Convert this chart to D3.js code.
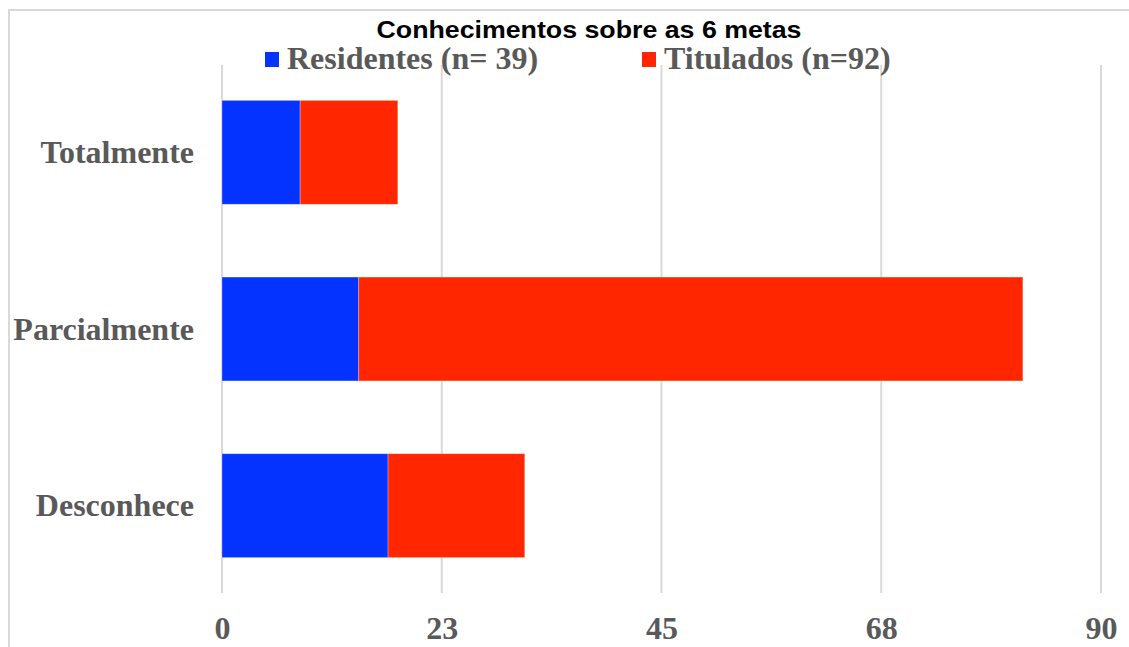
<!DOCTYPE html>
<html>
<head>
<meta charset="utf-8">
<script src="https://cdn.jsdelivr.net/npm/d3@7/dist/d3.min.js"></script>
<style>
  html, body { margin: 0; padding: 0; background: #ffffff; }
  svg { display: block; }
</style>
</head>
<body>
<svg id="chart" width="1129" height="647"></svg>
<script>
// Knowledge of the 6 goals, stacked by group
const categories = ["Totalmente", "Parcialmente", "Desconhece"];
const residentes = [8, 14, 17];
const titulados = [10, 68, 14];
const seriesNames = ["Residentes (n= 39)", "Titulados (n=92)"];
const seriesColors = ["#0433FF", "#FF2600"];
const tickValues = [0, 22.5, 45, 67.5, 90];
const tickLabels = ["0", "23", "45", "68", "90"];
const title = "Conhecimentos sobre as 6 metas";

const svg = d3.select("#chart");
const W = 1129, H = 647;
const plot = { left: 222, right: 1101, top: 64, bottom: 594 };

const x = d3.scaleLinear().domain([0, 90]).range([plot.left, plot.right]);
const y = d3.scaleBand().domain(categories).range([plot.top, plot.bottom])
  .paddingInner(0.412).paddingOuter(0.206);

// outer frame (top and left edges)
svg.append("path")
  .attr("d", `M9,${H} L9,10 L${W},10`)
  .attr("fill", "none").attr("stroke", "#d9d9d9").attr("stroke-width", 2);

// vertical gridlines
svg.append("g").selectAll("line").data(tickValues).join("line")
  .attr("x1", d => x(d)).attr("x2", d => x(d))
  .attr("y1", plot.top + 1).attr("y2", plot.bottom - 1)
  .attr("stroke", "#d9d9d9").attr("stroke-width", 2);

// stacked bars
const rows = categories.map((c, i) => ({ cat: c, Residentes: residentes[i], Titulados: titulados[i] }));
const stack = d3.stack().keys(["Residentes", "Titulados"])(rows);

svg.append("g").selectAll("g").data(stack).join("g")
  .attr("fill", (d, i) => seriesColors[i])
  .selectAll("rect").data(d => d).join("rect")
  .attr("x", d => x(d[0]))
  .attr("width", d => x(d[1]) - x(d[0]))
  .attr("y", d => y(d.data.cat))
  .attr("height", y.bandwidth())
  .attr("stroke", "rgba(255,255,255,0.35)").attr("stroke-width", 0.8);

// x axis labels
const xAxis = d3.axisBottom(x).tickValues(tickValues)
  .tickFormat((d, i) => tickLabels[i]).tickSize(0).tickPadding(0);
const gx = svg.append("g").attr("transform", `translate(0,${plot.bottom})`).call(xAxis);
gx.select(".domain").remove();
gx.selectAll("text")
  .attr("y", 0).attr("dy", null)
  .attr("transform", "translate(0,45)")
  .style("font-family", "'Liberation Serif', 'Times New Roman', serif")
  .style("font-weight", "bold").style("font-size", "32px").attr("fill", "#595959");

// y axis labels
const yAxis = d3.axisLeft(y).tickSize(0).tickPadding(28);
const gy = svg.append("g").attr("transform", `translate(${plot.left},0)`).call(yAxis);
gy.select(".domain").remove();
gy.selectAll("text")
  .attr("dy", "0.33em")
  .style("font-family", "'Liberation Serif', 'Times New Roman', serif")
  .style("font-weight", "bold").style("font-size", "32px").attr("fill", "#595959");

// title
svg.append("text")
  .attr("x", 589).attr("y", 38).attr("text-anchor", "middle")
  .attr("textLength", 425).attr("lengthAdjust", "spacingAndGlyphs")
  .style("font-family", "'Liberation Sans', Arial, sans-serif")
  .style("font-weight", "bold").style("font-size", "24.5px")
  .attr("fill", "#000000").text(title);

// legend
const legendX = [265, 642];
const legend = svg.append("g").selectAll("g").data(seriesNames).join("g")
  .attr("transform", (d, i) => `translate(${legendX[i]},0)`);
legend.append("rect").attr("x", 0).attr("y", 52).attr("width", 14).attr("height", 15)
  .attr("fill", (d, i) => seriesColors[i]);
legend.append("text").attr("x", 22).attr("y", 69)
  .style("font-family", "'Liberation Serif', 'Times New Roman', serif")
  .style("font-weight", "bold").style("font-size", "32px")
  .attr("fill", "#595959").text(d => d);
</script>
</body>
</html>
